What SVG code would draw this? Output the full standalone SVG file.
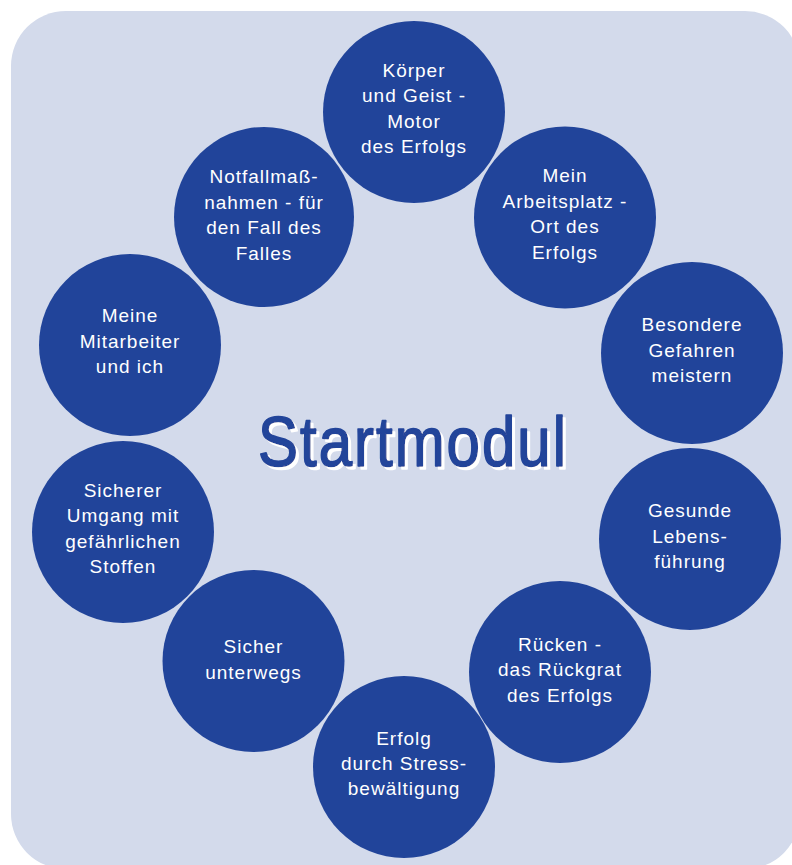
<svg xmlns="http://www.w3.org/2000/svg" width="792" height="865" viewBox="0 0 792 865">
  <style>
    .bg { fill: #D3DAEB; }
    .node circle { fill: #21449A; }
    .node text { fill: #FFFFFF; font-family: "Liberation Sans", Arial, sans-serif; font-size: 19px; letter-spacing: 1px; text-anchor: middle; }
    .title { font-family: "Liberation Sans", Arial, sans-serif; font-weight: normal; font-size: 60px; letter-spacing: 2px; text-anchor: middle; fill: #21449A; stroke: #21449A; stroke-width: 1.4px; stroke-linejoin: round; }
  </style>
  <defs>
    <filter id="whiteShadow" x="-10%" y="-20%" width="120%" height="140%">
      <feOffset in="SourceAlpha" dx="2.5" dy="2.5" result="off"/>
      <feFlood flood-color="#FFFFFF"/>
      <feComposite in2="off" operator="in" result="shadow"/>
      <feMerge>
        <feMergeNode in="shadow"/>
        <feMergeNode in="SourceGraphic"/>
      </feMerge>
    </filter>
  </defs>
  <rect x="0" y="0" width="792" height="865" fill="#FFFFFF"/>
  <rect class="bg" x="11" y="11" width="789" height="858" rx="55" ry="55"/>

  <g id="node-koerper" class="node">
    <circle cx="414" cy="112" r="91"/>
    <text x="414" y="77">Körper</text>
    <text x="414" y="102">und Geist -</text>
    <text x="414" y="127.5">Motor</text>
    <text x="414" y="153">des Erfolgs</text>
  </g>
  <g id="node-arbeitsplatz" class="node">
    <circle cx="565" cy="217.5" r="91"/>
    <text x="565" y="182">Mein</text>
    <text x="565" y="207.5">Arbeitsplatz -</text>
    <text x="565" y="233">Ort des</text>
    <text x="565" y="258.5">Erfolgs</text>
  </g>
  <g id="node-gefahren" class="node">
    <circle cx="692" cy="353" r="91"/>
    <text x="692" y="331">Besondere</text>
    <text x="692" y="356.5">Gefahren</text>
    <text x="692" y="382">meistern</text>
  </g>
  <g id="node-lebensfuehrung" class="node">
    <circle cx="690" cy="539" r="91"/>
    <text x="690" y="517">Gesunde</text>
    <text x="690" y="542.5">Lebens-</text>
    <text x="690" y="568">führung</text>
  </g>
  <g id="node-ruecken" class="node">
    <circle cx="560" cy="672" r="91"/>
    <text x="560" y="651">Rücken -</text>
    <text x="560" y="676">das Rückgrat</text>
    <text x="560" y="701.5">des Erfolgs</text>
  </g>
  <g id="node-stress" class="node">
    <circle cx="404" cy="767" r="91"/>
    <text x="404" y="745">Erfolg</text>
    <text x="404" y="770">durch Stress-</text>
    <text x="404" y="795">bewältigung</text>
  </g>
  <g id="node-unterwegs" class="node">
    <circle cx="253.5" cy="661" r="91"/>
    <text x="253.5" y="653">Sicher</text>
    <text x="253.5" y="679">unterwegs</text>
  </g>
  <g id="node-stoffe" class="node">
    <circle cx="123" cy="532" r="91"/>
    <text x="123" y="497">Sicherer</text>
    <text x="123" y="522">Umgang mit</text>
    <text x="123" y="548">gefährlichen</text>
    <text x="123" y="573">Stoffen</text>
  </g>
  <g id="node-mitarbeiter" class="node">
    <circle cx="130" cy="345" r="91"/>
    <text x="130" y="322">Meine</text>
    <text x="130" y="347.5">Mitarbeiter</text>
    <text x="130" y="373">und ich</text>
  </g>
  <g id="node-notfall" class="node">
    <circle cx="264" cy="217" r="90"/>
    <text x="264" y="183">Notfallmaß-</text>
    <text x="264" y="208.5">nahmen - für</text>
    <text x="264" y="234">den Fall des</text>
    <text x="264" y="259.5">Falles</text>
  </g>

  <g id="title" filter="url(#whiteShadow)">
    <text class="title" transform="translate(413 466) scale(1 1.16)" x="0" y="0">Startmodul</text>
  </g>
</svg>
